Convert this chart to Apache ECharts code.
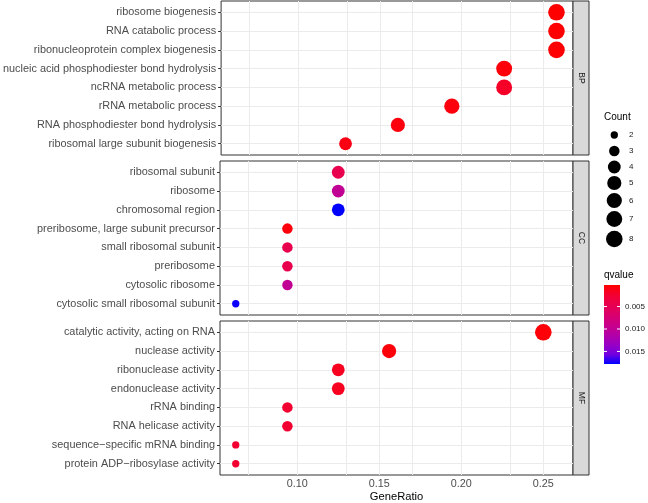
<!DOCTYPE html>
<html><head><meta charset="utf-8">
<script src="https://cdn.jsdelivr.net/npm/echarts@6/dist/echarts.min.js"></script>
<style>html,body{margin:0;padding:0;background:#fff}#c{width:648px;height:503px}</style>
</head><body><div id="c"></div>
<script>
// ---------------- data ----------------
const bpTerms = ['ribosome biogenesis','RNA catabolic process','ribonucleoprotein complex biogenesis','nucleic acid phosphodiester bond hydrolysis','ncRNA metabolic process','rRNA metabolic process','RNA phosphodiester bond hydrolysis','ribosomal large subunit biogenesis'];
const bpRatio = [0.258, 0.258, 0.258, 0.226, 0.226, 0.194, 0.161, 0.129];
const bpCount = [8, 8, 8, 7, 7, 6, 5, 4];
const bpQ     = [0.0002, 0.0003, 0.0004, 0.0006, 0.0020, 0.0008, 0.0008, 0.0010];

const ccTerms = ['ribosomal subunit','ribosome','chromosomal region','preribosome, large subunit precursor','small ribosomal subunit','preribosome','cytosolic ribosome','cytosolic small ribosomal subunit'];
const ccRatio = [0.125, 0.125, 0.125, 0.094, 0.094, 0.094, 0.094, 0.0625];
const ccCount = [4, 4, 4, 3, 3, 3, 3, 2];
const ccQ     = [0.0046, 0.0099, 0.0178, 0.0007, 0.0046, 0.0046, 0.0099, 0.0176];

const mfTerms = ['catalytic activity, acting on RNA','nuclease activity','ribonuclease activity','endonuclease activity','rRNA binding','RNA helicase activity','sequence\u2212specific mRNA binding','protein ADP\u2212ribosylase activity'];
const mfRatio = [0.25, 0.156, 0.125, 0.125, 0.094, 0.094, 0.0625, 0.0625];
const mfCount = [8, 5, 4, 4, 3, 3, 2, 2];
const mfQ     = [0.0005, 0.0006, 0.0016, 0.0016, 0.0025, 0.0025, 0.0025, 0.0025];

const facetNames = ['BP', 'CC', 'MF'];
const xTicks = [0.10, 0.15, 0.20, 0.25];
const xGrid = [0.075, 0.10, 0.125, 0.15, 0.175, 0.20, 0.225, 0.25];
const countLevels = [2, 3, 4, 5, 6, 7, 8];
const qTicks = [0.005, 0.010, 0.015];
const qMin = 0.0002, qMax = 0.0178;
const xMin = 0.0529, xMax = 0.2681;

// ---------------- style / layout ----------------
const FONT = 'Liberation Sans, Arial, Helvetica, sans-serif';
const PL = 220, PW = 353, PH = 154, TOPS = [1, 161, 321];
const sizeOf = { 2: 7.3, 3: 10.5, 4: 12.8, 5: 14.2, 6: 15.2, 7: 15.9, 8: 16.6 };
const legendY = [135, 151, 167, 183, 200.5, 219, 239];
const cbar = { x: 604, y: 285, w: 16, h: 79 };
const qColors = ['#FF0000', '#F40031', '#E8004F', '#DA006C', '#CA0089', '#B500A5', '#9A00C3', '#7300E0', '#0000FF'];

const panels = [
  { terms: bpTerms, ratio: bpRatio, count: bpCount, q: bpQ },
  { terms: ccTerms, ratio: ccRatio, count: ccCount, q: ccQ },
  { terms: mfTerms, ratio: mfRatio, count: mfCount, q: mfQ }
];

const grids = [], xAxes = [], yAxes = [], series = [], graphics = [];
panels.forEach((p, i) => {
  const last = i === panels.length - 1;
  grids.push({ left: PL, top: TOPS[i], width: PW, height: PH, show: true,
    backgroundColor: '#FFFFFF', borderColor: '#333333', borderWidth: 1, containLabel: false });
  xAxes.push({
    type: 'value', gridIndex: i, min: xMin, max: xMax,
    axisLine: { show: false }, splitLine: { show: false },
    axisTick: { show: last, customValues: xTicks, length: 3, lineStyle: { color: '#333333', width: 1 } },
    axisLabel: { show: last, customValues: xTicks, margin: 4, color: '#4D4D4D', fontSize: 10.8, fontFamily: FONT,
      formatter: v => v.toFixed(2) },
    name: last ? 'GeneRatio' : '', nameLocation: 'middle', nameGap: 16,
    nameTextStyle: { color: '#000000', fontSize: 11.2, fontFamily: FONT }
  });
  const idx = p.terms.map((t, j) => j);
  yAxes.push({
    type: 'value', gridIndex: i, min: -0.6, max: 7.6, inverse: true,
    axisLine: { show: false }, splitLine: { show: false },
    axisTick: { show: true, customValues: idx, length: 3, lineStyle: { color: '#333333', width: 1 } },
    axisLabel: { customValues: idx, margin: 5, color: '#4D4D4D', fontSize: 10.9, fontFamily: FONT,
      formatter: v => p.terms[Math.round(v)] }
  });
  // grid lines
  series.push({
    type: 'scatter', xAxisIndex: i, yAxisIndex: i, data: [], silent: true,
    markLine: {
      z: 1, silent: true, symbol: 'none', animation: false, label: { show: false },
      lineStyle: { type: 'solid', color: '#EBEBEB', width: 1 },
      data: xGrid.map(v => ({ xAxis: v })).concat(idx.map(j => ({ yAxis: j })))
    }
  });
  // points
  series.push({
    type: 'scatter', xAxisIndex: i, yAxisIndex: i, z: 3, animation: false,
    symbol: 'circle', itemStyle: { opacity: 1 },
    data: p.terms.map((t, j) => [p.ratio[j], j, p.count[j], p.q[j], t]),
    symbolSize: v => sizeOf[v[2]]
  });
  // facet strip
  graphics.push({ type: 'rect', shape: { x: PL + PW, y: TOPS[i], width: 16, height: PH },
    style: { fill: '#D9D9D9', stroke: '#333333', lineWidth: 1 } });
  graphics.push({ type: 'text', x: PL + PW + 8, y: TOPS[i] + PH / 2, rotation: -Math.PI / 2,
    style: { text: facetNames[i], x: 0, y: 0, align: 'center', verticalAlign: 'middle',
      textAlign: 'center', textVerticalAlign: 'middle', fill: '#1A1A1A', fontSize: 8.5, fontFamily: FONT } });
});

// Count legend
graphics.push({ type: 'text', x: 604, y: 117.5, style: { text: 'Count', fill: '#000', fontSize: 10, fontFamily: FONT,
  align: 'left', verticalAlign: 'middle', textAlign: 'left', textVerticalAlign: 'middle' } });
countLevels.forEach((c, k) => {
  graphics.push({ type: 'circle', shape: { cx: 614.3, cy: legendY[k], r: sizeOf[c] / 2 }, style: { fill: '#000' } });
  graphics.push({ type: 'text', x: 629, y: legendY[k], style: { text: String(c), fill: '#1A1A1A', fontSize: 8, fontFamily: FONT,
    align: 'left', verticalAlign: 'middle', textAlign: 'left', textVerticalAlign: 'middle' } });
});

// qvalue colour bar
graphics.push({ type: 'text', x: 604, y: 275, style: { text: 'qvalue', fill: '#000', fontSize: 10, fontFamily: FONT,
  align: 'left', verticalAlign: 'middle', textAlign: 'left', textVerticalAlign: 'middle' } });
graphics.push({ type: 'rect', shape: { x: cbar.x, y: cbar.y, width: cbar.w, height: cbar.h },
  style: { fill: new echarts.graphic.LinearGradient(0, 0, 0, 1,
    qColors.map((c, k) => ({ offset: k / (qColors.length - 1), color: c }))) } });
qTicks.forEach(v => {
  const y = cbar.y + (v - qMin) / (qMax - qMin) * cbar.h;
  graphics.push({ type: 'line', shape: { x1: cbar.x, y1: y, x2: cbar.x + 3, y2: y }, style: { stroke: '#FFFFFF', lineWidth: 1 } });
  graphics.push({ type: 'line', shape: { x1: cbar.x + cbar.w - 3, y1: y, x2: cbar.x + cbar.w, y2: y }, style: { stroke: '#FFFFFF', lineWidth: 1 } });
  graphics.push({ type: 'text', x: 625, y: y, style: { text: v.toFixed(3), fill: '#1A1A1A', fontSize: 8, fontFamily: FONT,
    align: 'left', verticalAlign: 'middle', textAlign: 'left', textVerticalAlign: 'middle' } });
});

const chart = echarts.init(document.getElementById('c'), null, { renderer: 'canvas' });
chart.setOption({
  animation: false,
  backgroundColor: '#FFFFFF',
  grid: grids, xAxis: xAxes, yAxis: yAxes, series: series,
  visualMap: { show: false, type: 'continuous', dimension: 3, min: qMin, max: qMax,
    seriesIndex: [1, 3, 5], inRange: { color: qColors } },
  graphic: { elements: graphics }
});
</script></body></html>
